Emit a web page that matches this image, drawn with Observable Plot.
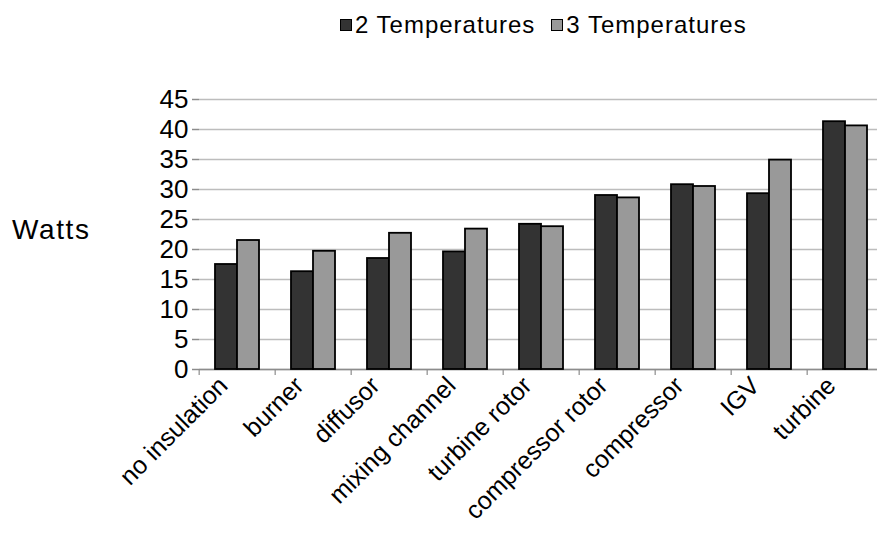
<!DOCTYPE html>
<html>
<head>
<meta charset="utf-8">
<script src="https://cdn.jsdelivr.net/npm/d3@7"></script>
<script src="https://cdn.jsdelivr.net/npm/@observablehq/plot@0.6"></script>
<style>
  html, body { margin: 0; padding: 0; background: white; overflow: hidden; }
  #wrap { position: relative; width: 877px; height: 541px; font-family: "Liberation Sans", Arial, sans-serif; }
  #legend { position: absolute; left: 340px; top: 11px; font-size: 24px; letter-spacing: 1px; color: #000; display: flex; align-items: center; white-space: nowrap; }
  #legend .sw { display: inline-block; width: 10px; height: 10px; border: 1.5px solid #000; margin-right: 3px; }
  #legend .item { display: flex; align-items: center; margin-right: 16px; }
  #ylabel { position: absolute; left: 12px; top: 214px; font-size: 28px; letter-spacing: 1.6px; color: #000; }
  #chart { position: absolute; left: 0; top: 0; }
</style>
</head>
<body>
<div id="wrap">
  <div id="chart"></div>
  <div id="legend"></div>
  <div id="ylabel">Watts</div>
</div>
<script>
const categories = ["no insulation", "burner", "diffusor", "mixing channel", "turbine rotor", "compressor rotor", "compressor", "IGV", "turbine"];
const seriesNames = ["2 Temperatures", "3 Temperatures"];
const twoTemps = [17.5, 16.3, 18.5, 19.6, 24.2, 29.0, 30.8, 29.3, 41.3];
const threeTemps = [21.5, 19.7, 22.7, 23.4, 23.8, 28.6, 30.5, 34.9, 40.6];
const seriesColors = ["#333333", "#999999"];
const yTicks = [0, 5, 10, 15, 20, 25, 30, 35, 40, 45];

const data = [];
categories.forEach((c, i) => {
  data.push({cat: c, series: seriesNames[0], value: twoTemps[i]});
  data.push({cat: c, series: seriesNames[1], value: threeTemps[i]});
});

const W = 877, H = 541;
const mL = 196, mT = 99, mB = 172, mR = -9;
const step = (W - mL - mR) / categories.length;

const chart = Plot.plot({
  width: W,
  height: H,
  marginLeft: mL,
  marginRight: mR,
  marginTop: mT,
  marginBottom: mB,
  style: {fontFamily: "'Liberation Sans', Arial, sans-serif", background: "white", overflow: "visible"},
  fx: {domain: categories, padding: 0, label: null},
  x: {domain: seriesNames, paddingInner: 0, paddingOuter: 0.667, axis: null},
  y: {domain: [0, 45], label: null},
  color: {domain: seriesNames, range: seriesColors},
  marks: [
    Plot.gridY(yTicks, {stroke: "#bdbdbd", strokeOpacity: 1, strokeWidth: 1.5}),
    Plot.ruleY([0], {stroke: "#8c8c8c", strokeWidth: 1.5}),
    Plot.barY(data, {fx: "cat", x: "series", y: "value", fill: "series", stroke: "#000", strokeWidth: 1.8}),
    Plot.axisY({ticks: yTicks, tickSize: 7, tickPadding: 4, fontSize: 26, line: true, stroke: "#8c8c8c", strokeWidth: 1.5, fill: "#000", label: null}),
    Plot.axisFx({anchor: "bottom", tickSize: 6, tickFormat: () => "", dx: -step / 2, stroke: "#8c8c8c", strokeWidth: 1.2, label: null}),
    Plot.axisFx({anchor: "bottom", tickSize: 0, tickPadding: 10, tickRotate: -45, fontSize: 25, dx: -14, dy: 2, fill: "#000", label: null})
  ]
});
document.getElementById("chart").appendChild(chart);

const legend = document.getElementById("legend");
seriesNames.forEach((s, i) => {
  const item = document.createElement("span");
  item.className = "item";
  const sw = document.createElement("span");
  sw.className = "sw";
  sw.style.background = seriesColors[i];
  item.appendChild(sw);
  item.appendChild(document.createTextNode(s));
  legend.appendChild(item);
});
</script>
</body>
</html>
